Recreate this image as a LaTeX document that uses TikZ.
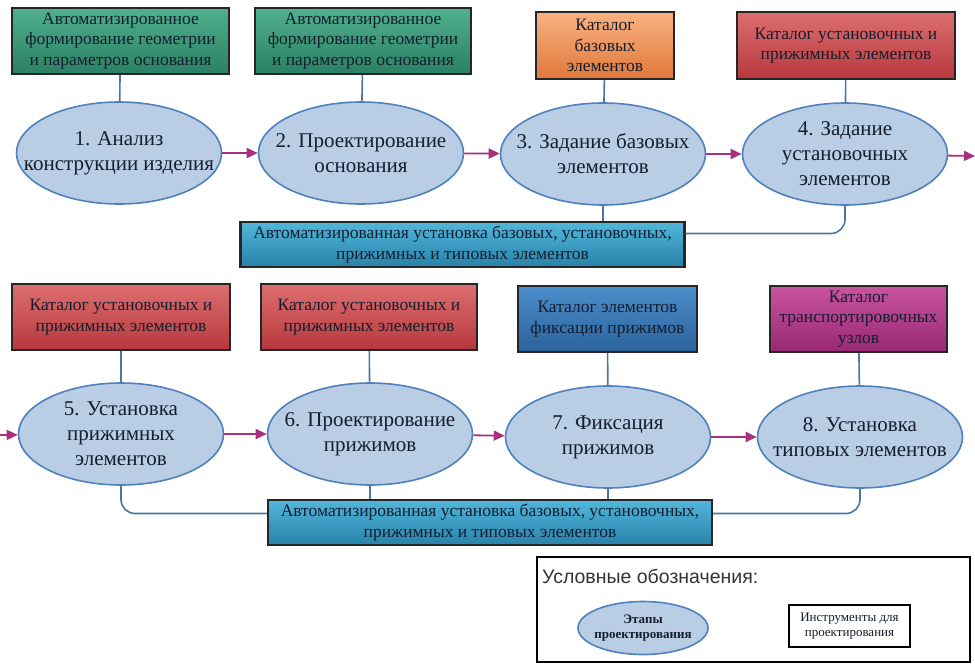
\documentclass[tikz,border=0pt]{standalone}
\usepackage{fontspec}
\setmainfont{Liberation Serif}
\newfontfamily\legendfont{Liberation Sans}
\usepackage{xcolor}
\usetikzlibrary{arrows.meta,positioning,calc,shapes.geometric}

\definecolor{ink}{HTML}{141E2E}
\definecolor{stagefill}{HTML}{B9CDE5}
\definecolor{stageline}{HTML}{4F81BD}
\definecolor{linkc}{HTML}{4A76A4}
\definecolor{flowc}{HTML}{A8307E}
\definecolor{boxline}{HTML}{262626}

\begin{document}
\begin{tikzpicture}[x=1pt,y=-1pt,
  stage/.style={ellipse, draw=stageline, line width=1.6pt, fill=stagefill,
    minimum width=205pt, minimum height=102pt, inner xsep=-30pt, inner ysep=-12pt, align=center,
    text=ink, font=\rmfamily\fontsize{21}{25}\selectfont},
  tool/.style={rectangle, draw=boxline, line width=2.2pt, inner sep=0pt,
    align=center, text=ink, font=\rmfamily\fontsize{17.5}{20.5}\selectfont},
  greenbox/.style={tool, top color={rgb,255:red,80;green,176;blue,142}, bottom color={rgb,255:red,42;green,128;blue,98}},
  orangebox/.style={tool, top color={rgb,255:red,248;green,178;blue,128}, bottom color={rgb,255:red,224;green,120;blue,60}},
  redbox/.style={tool, top color={rgb,255:red,222;green,110;blue,112}, bottom color={rgb,255:red,182;green,56;blue,60}},
  autobox/.style={tool, top color={rgb,255:red,82;green,182;blue,218}, bottom color={rgb,255:red,40;green,130;blue,170},
    minimum width=444pt, minimum height=45pt},
  fixbox/.style={tool, top color={rgb,255:red,76;green,142;blue,204}, bottom color={rgb,255:red,42;green,98;blue,156}},
  transbox/.style={tool, top color={rgb,255:red,200;green,84;blue,160}, bottom color={rgb,255:red,152;green,40;blue,116}},
  flow/.style={draw=flowc, line width=1.8pt, -{Triangle[length=11pt,width=10pt]}},
  link/.style={draw=linkc, line width=1.6pt}]

\useasboundingbox (0,0) rectangle (975,669);

% Инструменты, первая строка
\node[greenbox, minimum width=217pt, minimum height=66pt] (g1) at (120.5,41)
  {Автоматизированное\\формирование геометрии\\и параметров основания};
\node[greenbox, minimum width=216pt, minimum height=66pt] (g2) at (363,41)
  {Автоматизированное\\формирование геометрии\\и параметров основания};
\node[orangebox, minimum width=138pt, minimum height=67pt] (c3) at (605,45.5)
  {Каталог\\базовых\\элементов};
\node[redbox, minimum width=218pt, minimum height=67pt] (c4) at (846,45.5)
  {Каталог установочных и\\прижимных элементов};

% Этапы 1-4
\node[stage] (e1) at (119,153) {1. Анализ\\конструкции изделия};
\node[stage] (e2) at (361,153) {2. Проектирование\\основания};
\node[stage] (e3) at (603,154) {3. Задание базовых\\элементов};
\node[stage] (e4) at (845,154) {4. Задание\\установочных\\элементов};

\node[autobox] (a1) at (462.5,244.5)
  {Автоматизированная установка базовых, установочных,\\прижимных и типовых элементов};

% Инструменты, вторая строка
\node[redbox, minimum width=218pt, minimum height=66pt] (c5) at (121,317)
  {Каталог установочных и\\прижимных элементов};
\node[redbox, minimum width=216pt, minimum height=66pt] (c6) at (369,317)
  {Каталог установочных и\\прижимных элементов};
\node[fixbox, minimum width=179pt, minimum height=66pt] (c7) at (607.5,319)
  {Каталог элементов\\фиксации прижимов};
\node[transbox, minimum width=177pt, minimum height=66pt] (c8) at (858.5,319)
  {Каталог\\транспортировочных\\узлов};

% Этапы 5-8
\node[stage] (e5) at (121,434) {5. Установка\\прижимных\\элементов};
\node[stage] (e6) at (370,434) {6. Проектирование\\прижимов};
\node[stage] (e7) at (608,437) {7. Фиксация\\прижимов};
\node[stage] (e8) at (860,437) {8. Установка\\типовых элементов};

\node[autobox] (a2) at (490,522.5)
  {Автоматизированная установка базовых, установочных,\\прижимных и типовых элементов};

% Свободные концы стрелок у краёв
\coordinate (out1) at (975,156);
\coordinate (in2) at (0,435);

% Связи инструментов с этапами
\foreach \i in {1,2} \draw[link] (g\i) -- (e\i);
\foreach \i in {3,...,8} \draw[link] (c\i) -- (e\i);
\draw[link] (e3.south) -- (e3.south |- a1.north);
\draw[link, rounded corners=14pt] (e4.south) |- ($(a1.east)+(0,-11)$);
\draw[link] (e6.south) -- (e6.south |- a2.north);
\draw[link] (e7.south) -- (e7.south |- a2.north);
\draw[link, rounded corners=14pt] (e5.south) |- ($(a2.west)+(0,-9)$);
\draw[link, rounded corners=14pt] (e8.south) |- ($(a2.east)+(0,-9)$);

% Последовательность этапов
\foreach \i/\j in {1/2,2/3,3/4,5/6,6/7,7/8}
  \draw[flow] (e\i) -- (e\j);
\draw[flow] (e4) -- (out1);
\draw[flow] (in2) -- (e5);

% Условные обозначения
\draw[black, line width=1.4pt] (537,557) rectangle (970,662);
\node[anchor=west, inner sep=0pt, text=black!80, font=\legendfont\fontsize{19.5}{22}\selectfont] (lt) at (542,576)
  {Условные обозначения:};
\node[stage, minimum width=130pt, minimum height=53pt, font=\rmfamily\bfseries\fontsize{13}{15.5}\selectfont] (l1) at (643,628)
  {Этапы\\проектирования};
\node[tool, draw=black, line width=2pt, fill=white, minimum width=121pt, minimum height=42pt,
  font=\rmfamily\fontsize{13}{15}\selectfont] (l2) at (849.5,626) {Инструменты для\\проектирования};
\end{tikzpicture}
\end{document}
